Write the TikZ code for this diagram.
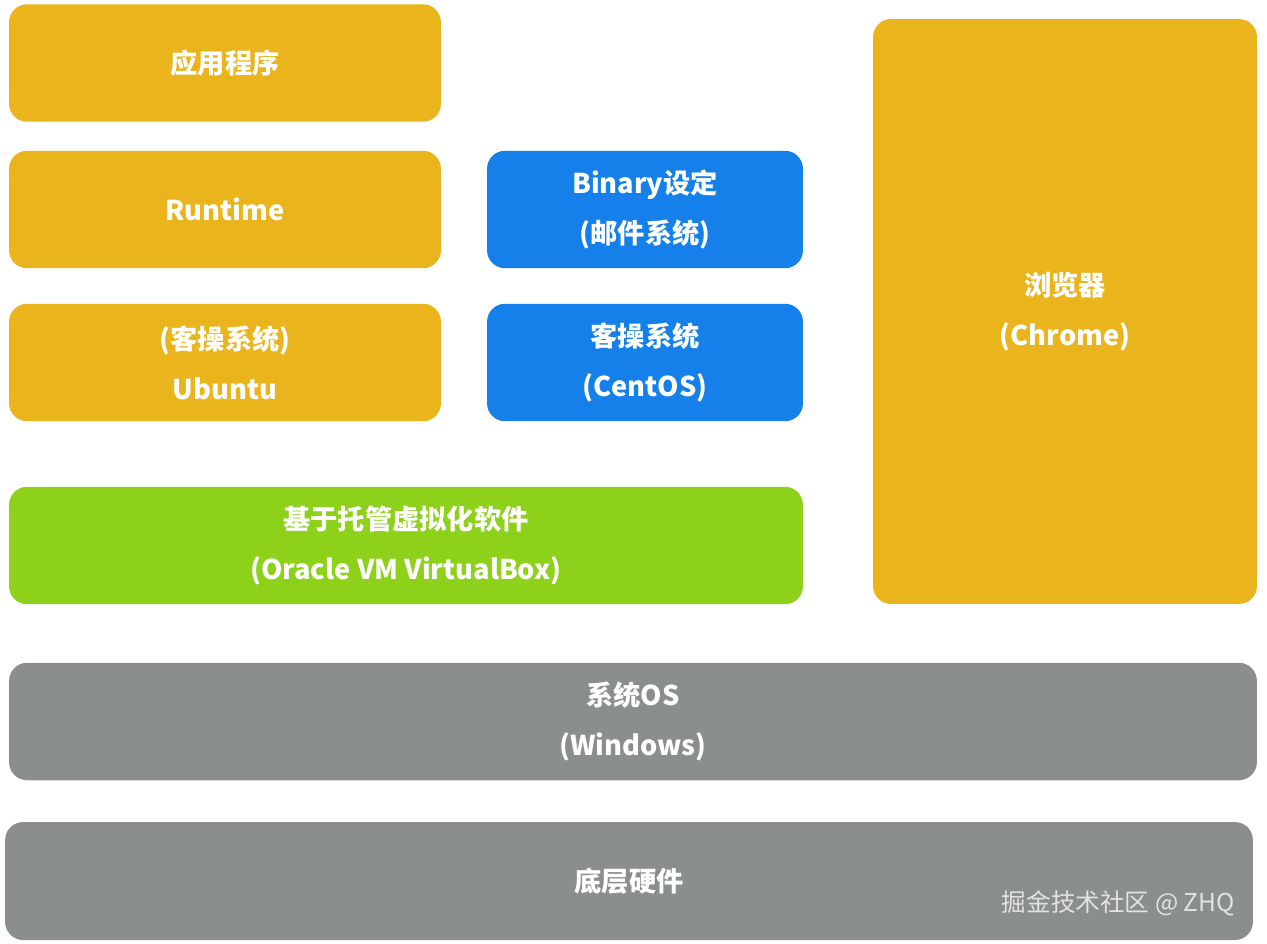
\documentclass[tikz,border=0pt]{standalone}
\usepackage{fontspec}
\setmainfont{Noto Sans CJK SC}
\usepackage{xcolor}
\usetikzlibrary{positioning}
\definecolor{appc}{HTML}{EAB51C}
\definecolor{guestc}{HTML}{1580E9}
\definecolor{hypc}{HTML}{8DD11A}
\definecolor{hostc}{HTML}{8A8E8D}
\definecolor{markc}{HTML}{E2E2E2}

\begin{document}
\begin{tikzpicture}[
  x=0.02cm, y=-0.02cm,
  layer/.style={rounded corners=0.36cm, inner sep=0pt, align=center, text=white,
                font=\bfseries\fontsize{15.5}{28.5}\selectfont, minimum height=2.35cm},
  wide/.style={layer, minimum width=8.64cm},
  mid/.style={layer, minimum width=6.32cm},
  full/.style={layer, minimum width=24.96cm, fill=hostc},
  watermark/.style={font=\fontsize{14}{16}\selectfont, text=markc},
]
\useasboundingbox (0,0) rectangle (1267,943);

% ---------------- left stack ----------------
\node[wide, fill=appc] (app) at (225,63) {应用程序};
\node[wide, fill=appc] (rt) at (225,209.5) {Runtime};
\node[wide, fill=appc] (ubuntu) at (225,362.5) {(客操系统)\\Ubuntu};

% ---------------- middle stack ----------------
\node[mid, fill=guestc] (binary) at (645,209.5) {Binary设定\\(邮件系统)};
\node[mid, fill=guestc] (centos) at (645,362.5) {客操系统\\(CentOS)};

% ---------------- hypervisor ----------------
\node[layer, fill=hypc, minimum width=15.88cm] (vbox) at (406,545.5) {基于托管虚拟化软件\\(Oracle VM VirtualBox)};

% ---------------- browser (right) ----------------
\node[layer, fill=appc, minimum width=7.68cm, minimum height=11.7cm] (chrome) at (1065,311.5) {浏览器\\(Chrome)};

% ---------------- host ----------------
\node[full] (os) at (633,721.5) {系统OS\\(Windows)};
\node[full, minimum height=2.36cm] (hw) at (629,881) {底层硬件};

\node[watermark, anchor=east] (wm) at (1241,903) {掘金技术社区 @ ZHQ};

\end{tikzpicture}
\end{document}
